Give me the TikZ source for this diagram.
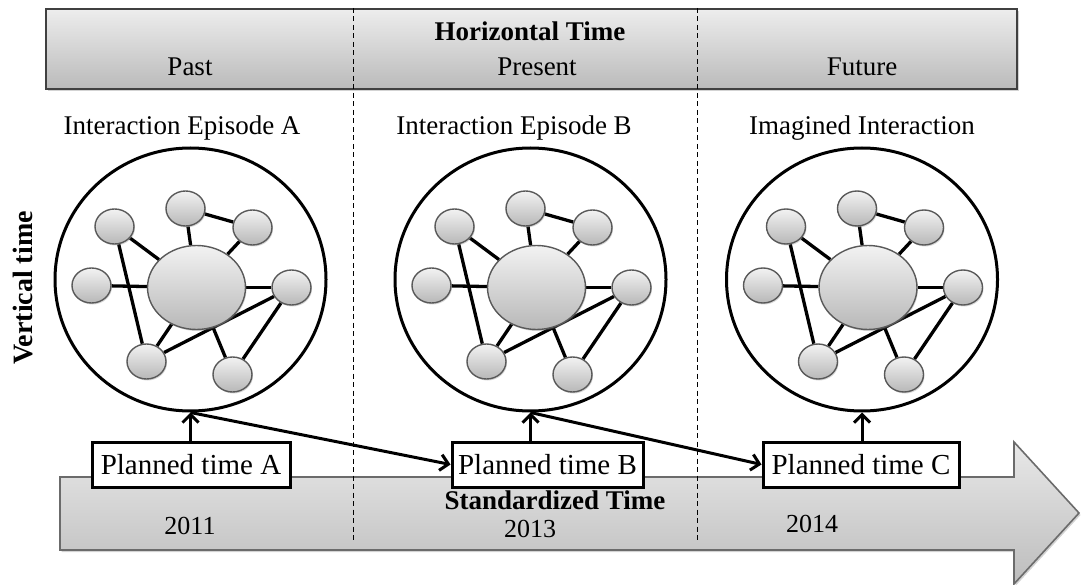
\documentclass[tikz,border=0pt]{standalone}
\usepackage{fontspec}
\setmainfont{Liberation Serif}
\usetikzlibrary{shapes.geometric,shadows,arrows.meta}

\pgfdeclarelayer{back}
\pgfdeclarelayer{links}
\pgfsetlayers{back,links,main}

\tikzset{
  lbl/.style={font=\fontsize{27}{30}\selectfont, inner sep=0pt, anchor=base},
  blbl/.style={font=\bfseries\fontsize{27}{30}\selectfont, inner sep=0pt, anchor=base},
  banner/.style={draw=black!75, line width=2pt, top color=black!7, bottom color=black!27,
    drop shadow={shadow xshift=1.5pt, shadow yshift=-2pt, opacity=0.35}},
  bigarrow/.style={draw=black!58, line width=1.6pt, top color=black!9, bottom color=black!26,
    drop shadow={shadow xshift=1.5pt, shadow yshift=-2pt, opacity=0.35}},
  divider/.style={line width=0.9pt, dash pattern=on 5pt off 3.5pt},
  ring/.style={ellipse, draw, line width=3pt, fill=white, inner sep=0pt,
    minimum width=271pt, minimum height=263pt},
  hubnode/.style={ellipse, draw=black!65, line width=1.4pt, top color=black!5, bottom color=black!28,
    inner sep=0pt, minimum width=98pt, minimum height=84pt,
    drop shadow={shadow xshift=1pt, shadow yshift=-1.5pt, opacity=0.3}},
  satnode/.style={ellipse, draw=black!65, line width=1.4pt, top color=black!5, bottom color=black!28,
    inner sep=0pt, minimum width=39pt, minimum height=35pt,
    drop shadow={shadow xshift=1pt, shadow yshift=-1.5pt, opacity=0.3}},
  link/.style={line width=3.3pt},
  planbox/.style={draw, line width=3pt, fill=white, inner sep=0pt, minimum height=45pt,
    font=\fontsize{29}{32}\selectfont},
  conn/.style={line width=3pt, -{Straight Barb[length=8pt,width=16pt]}},
  network/.pic={
    \node[hubnode] (-h) at (6,8) {};
    \node[satnode] (-a) at (-5,-71) {};
    \node[satnode] (-b) at (62,-52) {};
    \node[satnode] (-c) at (-76,-53) {};
    \node[satnode] (-d) at (-99,6) {};
    \node[satnode] (-e) at (101,8) {};
    \node[satnode] (-f) at (-44,82) {};
    \node[satnode] (-g) at (42,95) {};
    \begin{pgfonlayer}{links}
      \draw[link] (-c) -- (-h);
      \draw[link] (-c) -- (-f);
      \draw[link] (-d) -- (-h);
      \draw[link] (-a) -- (-h);
      \draw[link] (-a) -- (-b);
      \draw[link] (-b) -- (-h);
      \draw[link] (-e) -- (-h);
      \draw[link] (-e) -- (-f);
      \draw[link] (-e) -- (-g);
      \draw[link] (-h) -- (-f);
      \draw[link] (-h) -- (-g);
    \end{pgfonlayer}
  }
}

\begin{document}
\begin{tikzpicture}[x=1pt,y=-1pt]
\useasboundingbox (0,0) rectangle (1081,585);

% header band
\node[banner, anchor=north west, minimum width=971pt, minimum height=80pt, inner sep=0pt] (band) at (45,8) {};
\node[blbl] (htime) at (530,41) {Horizontal Time};
\node[lbl] (past) at (190,76) {Past};
\node[lbl] (present) at (537,76) {Present};
\node[lbl] (future) at (862,76) {Future};

% standardized time arrow
\path[bigarrow] (60,477) -- (1014,477) -- (1014,442) -- (1079,513) -- (1014,584)
  -- (1014,550) -- (60,550) -- cycle;
\node[blbl] (stime) at (555,509) {Standardized Time};
\node[lbl, font=\fontsize{26}{29}\selectfont] (y11) at (190,534) {2011};
\node[lbl, font=\fontsize{26}{29}\selectfont] (y13) at (530,537) {2013};
\node[lbl, font=\fontsize{26}{29}\selectfont] (y14) at (812,532) {2014};

% column dividers
\draw[divider] (353,8) -- (353,540);
\draw[divider] (697,8) -- (697,540);

% episode titles
\node[lbl] (tA) at (182,135) {Interaction Episode A};
\node[lbl] (tB) at (514,135) {Interaction Episode B};
\node[lbl] (tC) at (862,135) {Imagined Interaction};

% vertical axis label
\node[font=\bfseries\fontsize{28}{30}\selectfont, rotate=90, inner sep=0pt] (vtime) at (23,288) {Vertical time};

% episode circles
\begin{pgfonlayer}{back}
  \node[ring] (cA) at (190.5,279.5) {};
  \node[ring] (cB) at (530.5,279.5) {};
  \node[ring] (cC) at (862,279.5) {};
\end{pgfonlayer}
\pic (nA) at (cA.center) {network};
\pic (nB) at (cB.center) {network};
\pic (nC) at (cC.center) {network};

% planned time boxes
\node[planbox, minimum width=198pt] (bA) at (191,464.5) {Planned time A};
\node[planbox, minimum width=191pt] (bB) at (547.5,464.5) {Planned time B};
\node[planbox, minimum width=196pt] (bC) at (861,464.5) {Planned time C};

% connectors
\draw[conn] (cA.south |- bA.north) -- (cA.south);
\draw[conn] (cB.south |- bB.north) -- (cB.south);
\draw[conn] (cC.south |- bC.north) -- (cC.south);
\draw[conn] (cA.south) -- (bB.west);
\draw[conn] (cB.south) -- (bC.west);
\end{tikzpicture}
\end{document}
